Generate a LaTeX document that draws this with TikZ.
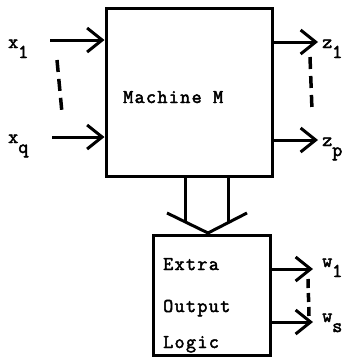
\documentclass[tikz,border=0pt]{standalone}
\usepackage{fontspec}
\setmonofont{Latin Modern Mono}[LetterSpace=7,FakeBold=2.5]
\usetikzlibrary{arrows.meta}
\begin{document}
\begin{tikzpicture}[x=1pt,y=-1pt,
  box/.style={draw,line width=3pt,inner sep=0pt},
  txt/.style={font=\ttfamily\fontsize{19.5}{22}\selectfont,inner sep=0pt,anchor=base west},
  arr/.style={line width=3pt,-{Straight Barb[length=15pt,width=24pt,line width=3pt]}},
  dots/.style={line width=3.5pt,dash pattern=on 12pt off 7pt},
  shaft/.style={line width=3pt}]
\useasboundingbox (0,0) rectangle (355,359);
% main machine
\node[box,minimum width=166pt,minimum height=168pt] (M) at (189,92) {};
\node[txt] (Mt) at (123,103) {Machine M};
% extra output logic
\node[box,minimum width=117pt,minimum height=120pt] (L) at (211.5,295) {};
\node[txt] (L1) at (163,270) {Extra};
\node[txt] (L2) at (163,312) {Output};
\node[txt] (L3) at (163,348) {Logic};
% inputs
\node[txt] (x1) at (8,48) {x\raisebox{-10pt}{1}};
\node[txt] (xq) at (8,143) {x\raisebox{-10pt}{q}};
\coordinate (x1s) at (50,40);
\coordinate (xqs) at (52,137);
\draw[arr] (x1s) -- (x1s -| M.west);
\draw[arr] (xqs) -- (xqs -| M.west);
\coordinate (dxa) at (57,60);
\coordinate (dxb) at (62,113);
\draw[dots] (dxa) -- (dxb);
% outputs z
\node[txt] (z1) at (322,48) {z\raisebox{-10pt}{1}};
\node[txt] (zp) at (322,146) {z\raisebox{-10pt}{p}};
\coordinate (z1e) at (318,42);
\coordinate (zpe) at (318,140);
\draw[arr] (z1e -| M.east) -- (z1e);
\draw[arr] (zpe -| M.east) -- (zpe);
\coordinate (dza) at (310,57);
\coordinate (dzb) at (312,110);
\draw[dots] (dza) -- (dzb);
% outputs w
\node[txt] (w1) at (322,267) {w\raisebox{-10pt}{1}};
\node[txt] (ws) at (322,322) {w\raisebox{-10pt}{s}};
\coordinate (w1e) at (313,269);
\coordinate (wse) at (313,322);
\draw[arr] (w1e -| L.east) -- (w1e);
\draw[arr] (wse -| L.east) -- (wse);
\coordinate (dwa) at (308,279);
\coordinate (dwb) at (309,316);
\draw[dots,dash pattern=on 9pt off 5pt] (dwa) -- (dwb);
% hollow arrow
\coordinate (ha) at (185,176);
\coordinate (hb) at (228,176);
\coordinate (ha2) at (185,222);
\coordinate (hb2) at (228,223);
\coordinate (wl) at (167,213);
\coordinate (wr) at (247,213);
\coordinate (tip) at (208,233);
\draw[shaft] (ha) -- (ha2);
\draw[shaft] (hb) -- (hb2);
\draw[shaft,line join=miter] (wl) -- (tip) -- (wr);
\end{tikzpicture}
\end{document}
